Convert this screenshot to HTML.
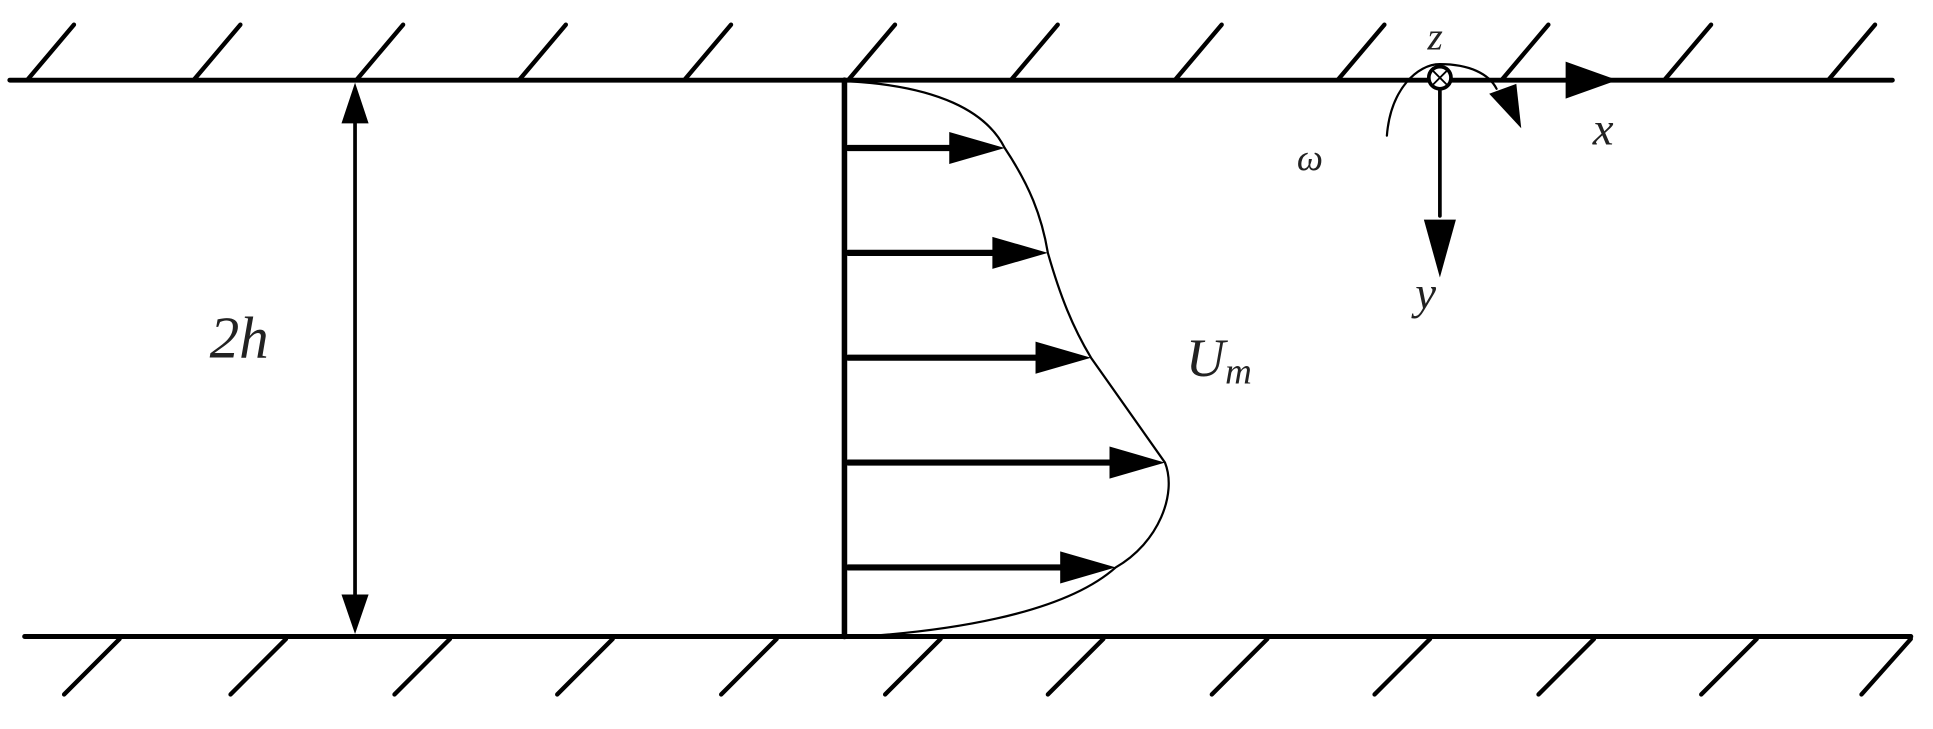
<!DOCTYPE html>
<html><head><style>html,body{margin:0;padding:0;background:#fff}svg{display:block}</style></head>
<body>
<svg width="1933" height="729" viewBox="0 0 1568 591" preserveAspectRatio="none" xmlns="http://www.w3.org/2000/svg">
<g stroke="#000" stroke-linecap="round" fill="none">
<line x1="8" y1="65" x2="1535" y2="65" stroke-width="4"/>
<line x1="20" y1="516" x2="1550" y2="516" stroke-width="4"/>
<g stroke-width="3.5">
<line x1="22" y1="65" x2="60" y2="20"/><line x1="157" y1="65" x2="195" y2="20"/><line x1="289" y1="65" x2="327" y2="20"/><line x1="421" y1="65" x2="459" y2="20"/><line x1="555" y1="65" x2="593" y2="20"/><line x1="688" y1="65" x2="726" y2="20"/><line x1="820" y1="65" x2="858" y2="20"/><line x1="953" y1="65" x2="991" y2="20"/><line x1="1085" y1="65" x2="1123" y2="20"/><line x1="1218" y1="65" x2="1256" y2="20"/><line x1="1350" y1="65" x2="1388" y2="20"/><line x1="1483" y1="65" x2="1521" y2="20"/>
<line x1="97" y1="518" x2="52" y2="563"/><line x1="232" y1="518" x2="187" y2="563"/><line x1="365" y1="518" x2="320" y2="563"/><line x1="497" y1="518" x2="452" y2="563"/><line x1="630" y1="518" x2="585" y2="563"/><line x1="763" y1="518" x2="718" y2="563"/><line x1="895" y1="518" x2="850" y2="563"/><line x1="1028" y1="518" x2="983" y2="563"/><line x1="1160" y1="518" x2="1115" y2="563"/><line x1="1293" y1="518" x2="1248" y2="563"/><line x1="1425" y1="518" x2="1380" y2="563"/><line x1="1550" y1="518" x2="1510" y2="563"/>
</g>
<line x1="288" y1="80" x2="288" y2="500" stroke-width="3"/>
<line x1="685" y1="65" x2="685" y2="516" stroke-width="4.5"/>
<path d="M690 66 C760 70 800 90 815 120 C835 150 845 175 850 205 C860 240 870 265 885 290 L945 375 C955 400 940 440 905 460 C860 500 760 512 700 516" stroke-width="1.8"/>
<g stroke-width="5">
<line x1="688" y1="120" x2="780" y2="120"/><line x1="688" y1="205" x2="815" y2="205"/><line x1="688" y1="290" x2="850" y2="290"/><line x1="688" y1="375" x2="905" y2="375"/><line x1="688" y1="460" x2="870" y2="460"/>
</g>
<line x1="1168" y1="72" x2="1168" y2="175" stroke-width="3"/>
<line x1="1178" y1="65" x2="1275" y2="65" stroke-width="3"/>
<path d="M1125 110 C1128 72 1150 52 1168 52 C1192 52 1208 60 1214 72" stroke-width="1.8"/>
<circle cx="1168" cy="63" r="9" stroke-width="3" fill="#fff"/>
<line x1="1163" y1="58" x2="1173" y2="68" stroke-width="1.5"/><line x1="1173" y1="58" x2="1163" y2="68" stroke-width="1.5"/>
</g>
<g fill="#000">
<polygon points="288,67 277,100 299,100"/><polygon points="288,514 277,482 299,482"/>
<polygon points="815,120 770,107 770,133"/><polygon points="850,205 805,192 805,218"/><polygon points="885,290 840,277 840,303"/><polygon points="945,375 900,362 900,388"/><polygon points="905,460 860,447 860,473"/>
<polygon points="1168,225 1155,178 1181,178"/><polygon points="1312,65 1270,50 1270,80"/>
<polygon points="1208,76 1230,68 1234,104"/>
</g>
<g font-family="Liberation Serif, serif" font-style="italic" fill="#222">
<text x="170" y="290" font-size="48">2<tspan>h</tspan></text>
<text x="962" y="305" font-size="44">U<tspan font-size="30" dy="6">m</tspan></text>
<text x="1158" y="40" font-size="32">z</text>
<text x="1292" y="117" font-size="38">x</text>
<text x="1148" y="250" font-size="38">y</text>
<text x="1052" y="138" font-size="30">ω</text>
</g>
</svg>
</body></html>
